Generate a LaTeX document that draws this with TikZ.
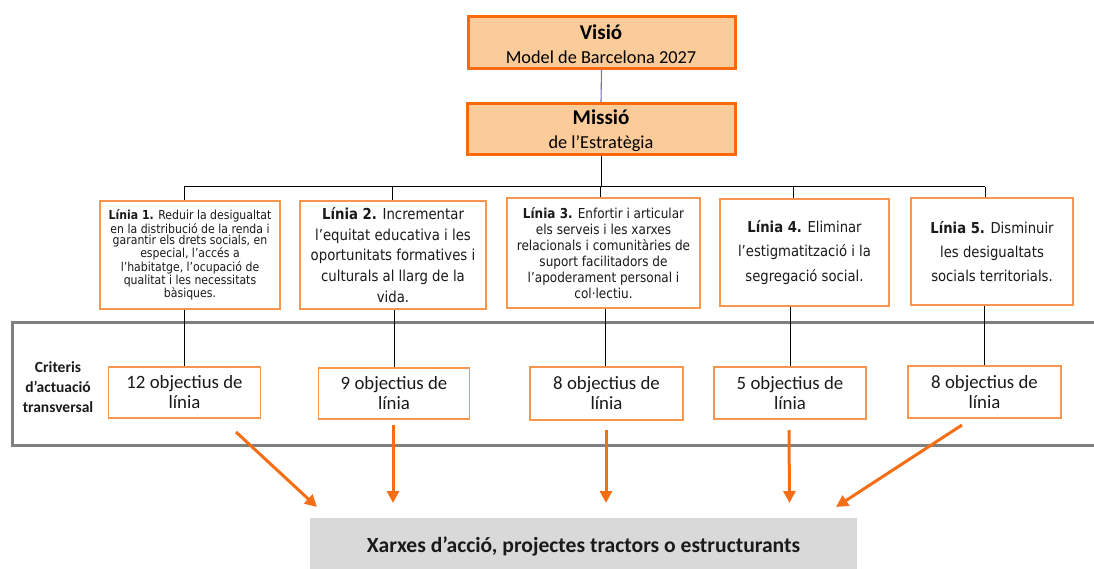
\documentclass[tikz,border=0pt]{standalone}
\usepackage{fontspec}
\setmainfont{Carlito}
\newfontfamily\tah{DejaVu Sans}[FakeStretch=0.88]
\usetikzlibrary{arrows.meta}
\definecolor{orfill}{HTML}{FBCB9A}
\definecolor{ordraw}{HTML}{FA6A0A}
\definecolor{lborder}{HTML}{F7964E}
\definecolor{arrcol}{HTML}{F46E16}
\definecolor{framecol}{HTML}{7F7F7F}
\definecolor{xboxcol}{HTML}{D9D9D9}
\definecolor{violetline}{HTML}{7B6BB3}
\definecolor{txt}{HTML}{1A1A1A}
\tikzset{
  topbox/.style={draw=ordraw, fill=orfill, line width=3pt, inner sep=0pt},
  linbox/.style={draw=lborder, fill=white, line width=1.4pt, inner sep=0pt, align=center, text=txt},
  objbox/.style={draw=lborder, fill=white, line width=1.4pt, inner sep=0pt, align=center, text=txt,
    minimum width=152pt, minimum height=52pt, font=\fontsize{18.8}{20}\selectfont},
  conn/.style={draw=black, line width=0.9pt},
  orarrow/.style={draw=arrcol, line width=3pt, -{Triangle[length=12pt,width=12pt]}},
}
\begin{document}
\begin{tikzpicture}[x=1pt,y=-1pt]
\useasboundingbox (0,0) rectangle (1094,568);

% frame (open to the right)
\draw[framecol, line width=3pt] (1098,322) -- (12,322) -- (12,445.5) -- (1098,445.5);

% Visio / Missio
\node[topbox, minimum width=267pt, minimum height=52pt] (vis) at (601.5,42) {};
\node[anchor=base, font=\fontsize{21}{24}\selectfont\bfseries] (vist) at (601,39) {Visió};
\node[anchor=base, font=\fontsize{18.3}{20}\selectfont] (visb) at (601,63) {Model de Barcelona 2027};
\node[topbox, minimum width=268pt, minimum height=51pt] (mis) at (601,129) {};
\node[anchor=base, font=\fontsize{21}{24}\selectfont\bfseries] (mist) at (601,124) {Missió};
\node[anchor=base, font=\fontsize{18.3}{20}\selectfont] (misb) at (601,148) {de l’Estratègia};
\draw[violetline, line width=1.1pt] (vis.south) -- (mis.north);

% Linia boxes
\node[linbox, minimum width=180pt, minimum height=108pt, font=\tah\fontsize{12.4}{10.7}\selectfont] (l1) at (190,255)
  {\textbf{Línia 1.} Reduir la desigualtat\\en la distribució de la renda i\\garantir els drets socials, en\\especial, l’accés a\\l’habitatge, l’ocupació de\\qualitat i les necessitats\\bàsiques.};
\node[linbox, minimum width=186pt, minimum height=108pt, font=\tah\fontsize{15.1}{20.6}\selectfont] (l2) at (393,255)
  {\textbf{Línia 2.} Incrementar\\l’equitat educativa i les\\oportunitats formatives i\\culturals al llarg de la\\vida.};
\node[linbox, minimum width=193pt, minimum height=110pt, font=\tah\fontsize{13.7}{16}\selectfont] (l3) at (603.5,253)
  {\textbf{Línia 3.} Enfortir i articular\\els serveis i les xarxes\\relacionals i comunitàries de\\suport facilitadors de\\l’apoderament personal i\\col·lectiu.};
\node[linbox, minimum width=169pt, minimum height=107pt, font=\tah\fontsize{15}{24.2}\selectfont] (l4) at (804.5,252.5)
  {\textbf{Línia 4.} Eliminar\\l’estigmatització i la\\segregació social.};
\node[linbox, minimum width=162pt, minimum height=107pt, font=\tah\fontsize{15}{24.2}\selectfont] (l5) at (992,251.5)
  {\textbf{Línia 5.} Disminuir\\les desigualtats\\socials territorials.};

% tree connectors
\coordinate (bus) at (601,186.5);
\coordinate (b1) at (184,186.5);
\coordinate (b2) at (392,186.5);
\coordinate (b3) at (600,186.5);
\coordinate (b4) at (793,186.5);
\coordinate (b5) at (985,186.5);
\draw[conn] (mis.south) -- (bus);
\draw[conn] (b1) -- (b5);
\draw[conn] (b1) -- (b1 |- l1.north);
\draw[conn] (b2) -- (b2 |- l2.north);
\draw[conn] (b3) -- (b3 |- l3.north);
\draw[conn] (b4) -- (b4 |- l4.north);
\draw[conn] (b5) -- (b5 |- l5.north);

% Criteris
\node[align=center, text=txt, font=\fontsize{15.5}{20.2}\selectfont\bfseries] (crit) at (58,387) {Criteris\\d’actuació\\transversal};

% objective boxes
\node[objbox, minimum width=152pt, minimum height=51pt] (o1) at (184.5,392.5) {12 objectius de\\línia};
\node[objbox, minimum width=151.5pt, minimum height=51pt] (o2) at (394,393.5) {9 objectius de\\línia};
\node[objbox, minimum width=153pt, minimum height=53pt] (o3) at (606.5,393.5) {8 objectius de\\línia};
\node[objbox, minimum width=152pt, minimum height=52pt] (o4) at (790,393) {5 objectius de\\línia};
\node[objbox, minimum width=153pt, minimum height=52pt] (o5) at (984.5,392) {8 objectius de\\línia};

\coordinate (c3) at (605.5,350);
\draw[conn] (o1.north |- l1.south) -- (o1.north);
\draw[conn] (o2.north |- l2.south) -- (o2.north);
\draw[conn] (c3 |- l3.south) -- (c3 |- o3.north);
\draw[conn] (o4.north |- l4.south) -- (o4.north);
\draw[conn] (o5.north |- l5.south) -- (o5.north);

% bottom box
\node[fill=xboxcol, minimum width=547pt, minimum height=52pt, inner sep=0pt] (xb) at (583.5,543.5) {};
\node[anchor=base, text=txt, font=\fontsize{21.6}{24}\selectfont\bfseries] (xbt) at (583.5,552.3) {Xarxes d’acció, projectes tractors o estructurants};

% arrows
\coordinate (s1) at (236,432);  \coordinate (e1) at (317,507);
\coordinate (s2) at (393,425);  \coordinate (e2) at (393,503);
\coordinate (s3) at (606,430);  \coordinate (e3) at (606,503);
\coordinate (s4) at (789,430);  \coordinate (e4) at (789.5,503);
\coordinate (s5) at (962,425);  \coordinate (e5) at (836,507);
\draw[orarrow] (s1) -- (e1);
\draw[orarrow] (s2) -- (e2);
\draw[orarrow] (s3) -- (e3);
\draw[orarrow] (s4) -- (e4);
\draw[orarrow] (s5) -- (e5);
\end{tikzpicture}
\end{document}
